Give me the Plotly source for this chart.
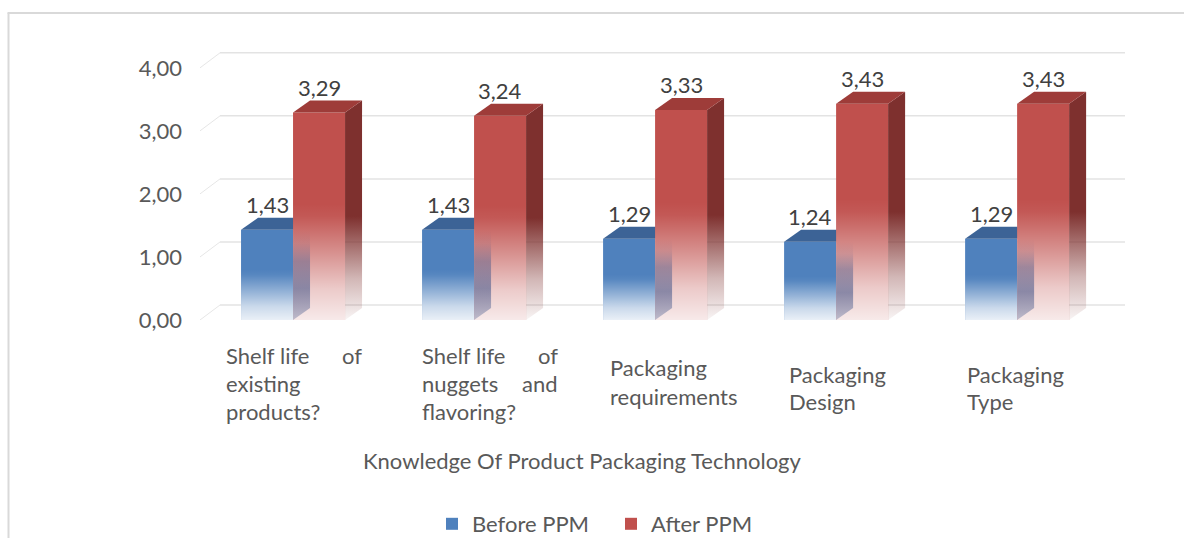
import plotly.graph_objects as go

# ---------------- data ----------------
categories = ["Shelf life of existing products?",
              "Shelf life of nuggets and flavoring?",
              "Packaging requirements",
              "Packaging Design",
              "Packaging Type"]
tick_label_lines = [["Shelf life of", "existing", "products?"],
                    ["Shelf life of", "nuggets and", "flavoring?"],
                    ["Packaging", "requirements"],
                    ["Packaging", "Design"],
                    ["Packaging", "Type"]]
before_ppm = [1.43, 1.43, 1.29, 1.24, 1.29]
after_ppm = [3.29, 3.24, 3.33, 3.43, 3.43]
series_names = ["Before PPM", "After PPM"]
y_ticks = [0, 1, 2, 3, 4]
x_title = "Knowledge Of Product Packaging Technology"

# ---------------- geometry / style ----------------
W, H = 1184, 538
L, R, T, B = 200, 59, 30, 218
plot_w = W - L - R
plot_h = H - T - B
x_range = [-0.514, 4.596]
y_range = [0, 4.6]
ppx = plot_w / (x_range[1] - x_range[0])
ppy = plot_h / (y_range[1] - y_range[0])
bar_w = 52 / ppx
dx, dy = 17 / ppx, 12 / ppy          # bar depth
wdx, wdy = 20 / ppx, 15 / ppy        # wall depth

FONT = "Lato"
FS = 22
TXT = "#595959"
LBL = "#404040"
blue = dict(front="#4F81BD", top="#3C6396", side="#3A4F86")
red = dict(front="#C0504D", top="#9E3C39", side="#7E302E")


def px2paper_x(px):
    return (px - L) / plot_w


def px2paper_y(py):
    return (T + plot_h - py) / plot_h


def rgba(hexc, a):
    h = hexc.lstrip("#")
    r, g, b = int(h[0:2], 16), int(h[2:4], 16), int(h[4:6], 16)
    return f"rgba({r},{g},{b},{a})"


fig = go.Figure()

white_fade = [[0, "rgba(255,255,255,0.88)"], [0.15, "rgba(255,255,255,0.7)"],
              [0.32, "rgba(255,255,255,0.38)"], [0.5, "rgba(255,255,255,0.05)"],
              [0.56, "rgba(255,255,255,0)"], [1, "rgba(255,255,255,0)"]]

# front faces as real bars
fig.add_trace(go.Bar(x=list(range(len(categories))), y=before_ppm, width=bar_w,
                     offset=-bar_w, name=series_names[0],
                     marker=dict(color=blue["front"], line=dict(width=0)),
                     hoverinfo="skip", zorder=0))
fig.add_trace(go.Bar(x=list(range(len(categories))), y=after_ppm, width=bar_w,
                     offset=0, name=series_names[1],
                     marker=dict(color=red["front"], line=dict(width=0)),
                     hoverinfo="skip", zorder=1))


def poly(xs, ys, z, color=None, grad=None, start=None, stop=None):
    kw = dict(x=xs + [xs[0]], y=ys + [ys[0]], mode="lines", line=dict(width=0),
              fill="toself", showlegend=False, hoverinfo="skip", zorder=z)
    if grad is not None:
        kw["fillgradient"] = dict(type="vertical", colorscale=grad,
                                  start=start, stop=stop)
        kw["fillcolor"] = "rgba(0,0,0,0)"
    else:
        kw["fillcolor"] = color
    fig.add_trace(go.Scatter(**kw))


for i, (vb, va) in enumerate(zip(before_ppm, after_ppm)):
    # ---- blue (before) ----
    l, r = i - bar_w, i
    poly([l, r, r + dx, l + dx], [vb, vb, vb + dy, vb + dy], 0, color=blue["top"])
    poly([l, r, r, l], [0, 0, vb, vb], 0, grad=white_fade, start=0, stop=vb)
    # ---- red (after) ----
    l2, r2 = i, i + bar_w
    poly([l2, r2, r2, l2], [0, 0, va, va], 2, grad=white_fade, start=0, stop=va)
    # blue side face seen through the fading red front
    poly([r, r + dx, r + dx, r], [0, dy, vb + dy, vb], 2,
         grad=[[0, rgba(blue["side"], 0.3)], [0.35, rgba(blue["side"], 0.55)],
               [0.65, rgba(blue["side"], 0.4)], [0.85, rgba(blue["side"], 0.08)],
               [1, rgba(blue["side"], 0)]],
         start=0, stop=vb)
    poly([r2, r2 + dx, r2 + dx, r2], [0, dy, va + dy, va], 2,
         grad=[[0, rgba(red["side"], 0.05)], [0.2, rgba(red["side"], 0.35)],
               [0.5, rgba(red["side"], 1)], [1, rgba(red["side"], 1)]],
         start=0, stop=va)
    poly([l2, r2, r2 + dx, l2 + dx], [va, va, va + dy, va + dy], 2, color=red["top"])

# ---------------- back wall grid ----------------
shapes = []
for v in y_ticks:
    shapes.append(dict(type="line", xref="x", yref="y", layer="below",
                       x0=x_range[0] + wdx, x1=x_range[1], y0=v + wdy, y1=v + wdy,
                       line=dict(color="#e3e3e3", width=1.5)))
    shapes.append(dict(type="line", xref="x", yref="y", layer="below",
                       x0=x_range[0], x1=x_range[0] + wdx, y0=v, y1=v + wdy,
                       line=dict(color="#e6e6e6", width=1)))

# outer frame
shapes.append(dict(type="line", xref="paper", yref="paper",
                   x0=px2paper_x(8.5), x1=px2paper_x(8.5),
                   y0=px2paper_y(13), y1=px2paper_y(540),
                   line=dict(color="#d9d9d9", width=2)))
shapes.append(dict(type="line", xref="paper", yref="paper",
                   x0=px2paper_x(7.5), x1=px2paper_x(1190),
                   y0=px2paper_y(13), y1=px2paper_y(13),
                   line=dict(color="#d9d9d9", width=2)))

# ---------------- annotations ----------------
ann = []


def fmt(v):
    return f"{v:.2f}".replace(".", ",")


for i, (vb, va) in enumerate(zip(before_ppm, after_ppm)):
    ann.append(dict(x=i - bar_w / 2, y=vb + dy, xref="x", yref="y", text=fmt(vb),
                    showarrow=False, yanchor="bottom", xanchor="center", yshift=-2,
                    font=dict(family=FONT, size=FS, color=LBL)))
    ann.append(dict(x=i + bar_w / 2, y=va + dy, xref="x", yref="y", text=fmt(va),
                    showarrow=False, yanchor="bottom", xanchor="center", yshift=-2,
                    font=dict(family=FONT, size=FS, color=LBL)))

# category labels (left aligned, first lines justified in the two long labels)
label_left = [224, 420, 608, 787, 965]
label_top = [355, 355, 368, 374, 374]
label_width = 140
line_gap = 28
justify = [True, True, False, False, False]
for k, lines in enumerate(tick_label_lines):
    for j, line in enumerate(lines):
        yp = px2paper_y(label_top[k] + j * line_gap)
        words = line.split(" ")
        last = j == len(lines) - 1
        if justify[k] and not last and len(words) > 1:
            left, right = label_left[k], label_left[k] + label_width
            n = len(words)
            for w_i, wd in enumerate(words):
                if w_i == 0:
                    xp, xa = left, "left"
                elif w_i == n - 1:
                    xp, xa = right, "right"
                else:
                    xp, xa = left + (right - left) * w_i / (n - 1), "center"
                ann.append(dict(x=px2paper_x(xp), y=yp, xref="paper", yref="paper",
                                text=wd, showarrow=False, xanchor=xa, yanchor="middle",
                                font=dict(family=FONT, size=FS, color=TXT)))
        else:
            ann.append(dict(x=px2paper_x(label_left[k]), y=yp, xref="paper",
                            yref="paper", text=line, showarrow=False,
                            xanchor="left", yanchor="middle",
                            font=dict(family=FONT, size=FS, color=TXT)))

ann.append(dict(x=px2paper_x(582), y=px2paper_y(460), xref="paper", yref="paper",
                text=x_title, showarrow=False, xanchor="center", yanchor="middle",
                font=dict(family=FONT, size=FS, color=TXT)))

fig.update_layout(
    width=W, height=H,
    margin=dict(l=L, r=R, t=T, b=B, autoexpand=False),
    paper_bgcolor="white", plot_bgcolor="white",
    separators=", ",
    font=dict(family=FONT, size=FS, color=TXT),
    xaxis=dict(range=x_range, showgrid=False, zeroline=False, showline=False,
               showticklabels=False, ticks="", fixedrange=True),
    yaxis=dict(range=y_range, tickvals=y_ticks, tickformat=".2f",
               showgrid=False, zeroline=False, showline=False, ticks="",
               ticklabelstandoff=17,
               tickfont=dict(family=FONT, size=FS, color=TXT), fixedrange=True),
    showlegend=True,
    legend=dict(orientation="h", x=px2paper_x(432), xanchor="left",
                y=px2paper_y(503), yanchor="top",
                font=dict(family=FONT, size=FS, color=TXT),
                entrywidth=134, entrywidthmode="pixels",
                bgcolor="rgba(0,0,0,0)"),
    shapes=shapes, annotations=ann,
)

fig.write_html("out.html")
